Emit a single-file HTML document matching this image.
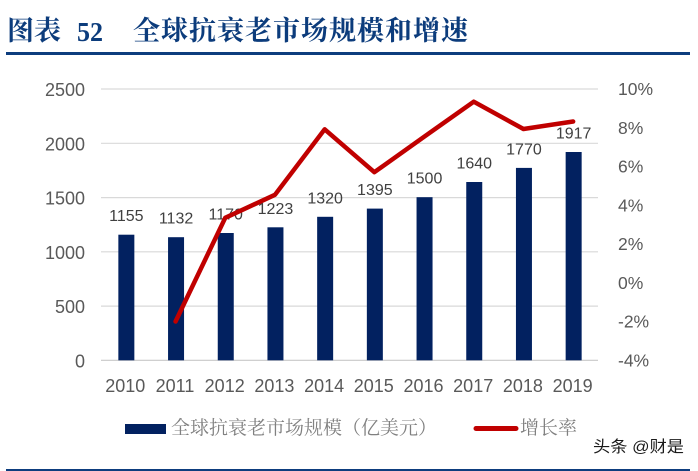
<!DOCTYPE html>
<html>
<head>
<meta charset="utf-8">
<style>
  html, body { margin: 0; padding: 0; background: #ffffff; }
  body { width: 698px; height: 471px; overflow: hidden; }
  svg { display: block; }
  .num { font-family: "Liberation Sans", sans-serif; }
</style>
</head>
<body>
<svg width="698" height="471" viewBox="0 0 698 471" xmlns="http://www.w3.org/2000/svg">
  <rect x="0" y="0" width="698" height="471" fill="#ffffff"/>

  <!-- Title -->
  <text x="7" y="40" font-family="'Noto Serif CJK SC', serif" font-weight="700" font-size="27" fill="#0c3c7c" textLength="54" lengthAdjust="spacingAndGlyphs">图表</text>
  <text x="77" y="41" font-family="'Liberation Serif', serif" font-weight="700" font-size="27" fill="#0c3c7c" textLength="26" lengthAdjust="spacingAndGlyphs">52</text>
  <text x="133" y="40" font-family="'Noto Serif CJK SC', serif" font-weight="700" font-size="27" fill="#0c3c7c" textLength="335" lengthAdjust="spacing">全球抗衰老市场规模和增速</text>
  <rect x="6" y="52" width="684" height="3" fill="#0d3d7e"/>

  <!-- Gridlines -->
  <g stroke="#d9d9d9" stroke-width="1.2">
    <line x1="101" y1="89" x2="598" y2="89"/>
    <line x1="101" y1="143.3" x2="598" y2="143.3"/>
    <line x1="101" y1="197.6" x2="598" y2="197.6"/>
    <line x1="101" y1="251.8" x2="598" y2="251.8"/>
    <line x1="101" y1="306.1" x2="598" y2="306.1"/>
  </g>
  <line x1="101" y1="360.3" x2="598" y2="360.3" stroke="#c8c8c8" stroke-width="1.2"/>

  <!-- Left axis labels -->
  <g class="num" font-size="18" fill="#595959" text-anchor="end">
    <text x="85" y="96">2500</text>
    <text x="85" y="150.3">2000</text>
    <text x="85" y="204.6">1500</text>
    <text x="85" y="258.8">1000</text>
    <text x="85" y="313.1">500</text>
    <text x="85" y="367.3">0</text>
  </g>

  <!-- Right axis labels -->
  <g class="num" font-size="17.5" fill="#595959" text-anchor="start">
    <text x="618" y="95.2">10%</text>
    <text x="618" y="133.9">8%</text>
    <text x="618" y="172.7">6%</text>
    <text x="618" y="211.5">4%</text>
    <text x="618" y="250.2">2%</text>
    <text x="618" y="289">0%</text>
    <text x="618" y="327.7">-2%</text>
    <text x="618" y="366.5">-4%</text>
  </g>

  <!-- Bars -->
  <g fill="#022160">
    <rect x="118.35" y="234.7" width="16" height="125.6"/>
    <rect x="168.05" y="237.2" width="16" height="123.1"/>
    <rect x="217.75" y="233.0" width="16" height="127.3"/>
    <rect x="267.45" y="227.3" width="16" height="133.0"/>
    <rect x="317.15" y="216.8" width="16" height="143.5"/>
    <rect x="366.85" y="208.6" width="16" height="151.7"/>
    <rect x="416.55" y="197.2" width="16" height="163.1"/>
    <rect x="466.25" y="182.0" width="16" height="178.3"/>
    <rect x="515.95" y="167.9" width="16" height="192.4"/>
    <rect x="565.65" y="152.0" width="16" height="208.3"/>
  </g>

  <!-- Data labels -->
  <g class="num" font-size="16" fill="#404040" text-anchor="middle">
    <text x="126.35" y="221.2">1155</text>
    <text x="176.05" y="223.7">1132</text>
    <text x="225.75" y="219.5">1170</text>
    <text x="275.45" y="213.8">1223</text>
    <text x="325.15" y="203.3">1320</text>
    <text x="374.85" y="195.1">1395</text>
    <text x="424.55" y="183.7">1500</text>
    <text x="474.25" y="168.5">1640</text>
    <text x="523.95" y="154.4">1770</text>
    <text x="573.65" y="138.5">1917</text>
  </g>

  <!-- Growth line -->
  <polyline fill="none" stroke="#c00000" stroke-width="4.5" stroke-linejoin="round" stroke-linecap="round"
    points="175.55,321.5 225.25,217.8 274.95,194.8 324.65,129.3 374.35,172.2 424.05,136.8 473.75,101.7 523.45,129.0 573.15,121.5"/>

  <!-- Category labels -->
  <g class="num" font-size="18" fill="#595959" text-anchor="middle">
    <text x="125.3" y="392">2010</text>
    <text x="175" y="392">2011</text>
    <text x="224.7" y="392">2012</text>
    <text x="274.4" y="392">2013</text>
    <text x="324.1" y="392">2014</text>
    <text x="373.8" y="392">2015</text>
    <text x="423.5" y="392">2016</text>
    <text x="473.2" y="392">2017</text>
    <text x="522.9" y="392">2018</text>
    <text x="572.6" y="392">2019</text>
  </g>

  <!-- Legend -->
  <rect x="125" y="424" width="41" height="10" fill="#022160"/>
  <text x="171" y="434" font-family="'Liberation Serif', 'Noto Serif CJK SC', serif" font-size="19" fill="#808080" textLength="266" lengthAdjust="spacingAndGlyphs">全球抗衰老市场规模（亿美元）</text>
  <line x1="476" y1="428.5" x2="516" y2="428.5" stroke="#c00000" stroke-width="5" stroke-linecap="round"/>
  <text x="520" y="434" font-family="'Liberation Serif', 'Noto Serif CJK SC', serif" font-size="19" fill="#808080" textLength="57" lengthAdjust="spacingAndGlyphs">增长率</text>

  <!-- Watermark -->
  <text x="593" y="452" font-family="'Liberation Sans', 'Noto Sans CJK SC', sans-serif" font-size="16" fill="#1a1a1a" textLength="91" lengthAdjust="spacingAndGlyphs">头条 @财是</text>

  <!-- Bottom rule -->
  <rect x="6" y="469" width="684" height="2" fill="#0d3d7e"/>
</svg>
</body>
</html>
